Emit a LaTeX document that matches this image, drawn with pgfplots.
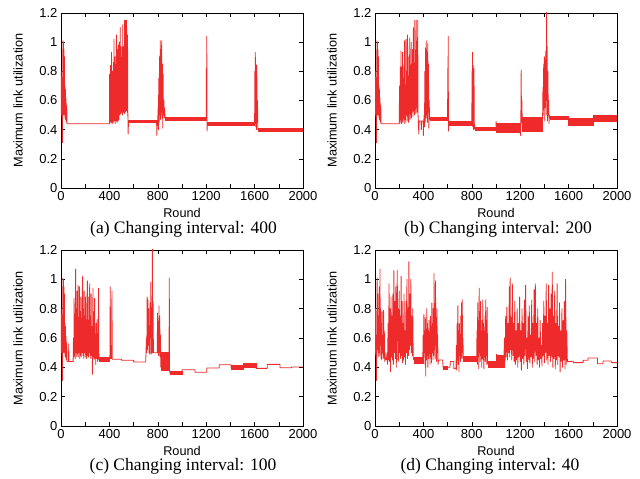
\documentclass[border=0pt]{standalone}
\usepackage{pgfplots}
\pgfplotsset{compat=1.18}
\usepackage{fontspec}
\setmainfont{Liberation Sans}
\newfontfamily\capfont{Liberation Serif}
\usetikzlibrary{calc}
\definecolor{lr}{RGB}{238,42,42}
\pgfplotsset{
  panel/.style={
    scale only axis, width=242pt, height=175pt,
    xmin=0, xmax=2000, ymin=0, ymax=1.2,
    xtick={0,200,...,2000}, xticklabels={0,,400,,800,,1200,,1600,,2000},
    ytick={0,0.2,0.4,0.6,0.8,1,1.2}, yticklabels={0,0.2,0.4,0.6,0.8,1,1.2},
    tick align=inside, major tick length=4pt,
    xtick pos=both, ytick pos=both,
    tick style={black, line width=0.6pt},
    axis line style={black, line width=0.8pt},
    /pgf/number format/assume math mode=true,
    ticklabel style={font=\fontsize{13}{13}\selectfont},
    label style={font=\fontsize{12.7}{13}\selectfont},
    xlabel=Round, ylabel=Maximum link utilization,
    xlabel style={at={(axis description cs:0.5,0)}, anchor=center, yshift=-24.5pt},
    ylabel style={at={($(axis description cs:0,0.5)+(-43pt,0)$)}, anchor=center},
  },
  trace/.style={lr, line width=0.8pt, line join=round},
  band/.style={fill=lr, draw=lr, line width=0.4pt, forget plot},
}
\begin{document}
\begin{tikzpicture}
\path[use as bounding box] (0,0) rectangle (640pt,479pt);
% (a)
\begin{axis}[panel, at={(61pt,291pt)}, anchor=south west]
\addplot[band] coordinates {(558,0.448) (800,0.448) (800,0.468) (558,0.468)} --cycle;
\addplot[band] coordinates {(860,0.465) (1200,0.465) (1200,0.487) (860,0.487)} --cycle;
\addplot[band] coordinates {(1209,0.428) (1600,0.428) (1600,0.450) (1209,0.450)} --cycle;
\addplot[band] coordinates {(1627,0.388) (2000,0.388) (2000,0.412) (1627,0.412)} --cycle;
\addplot[trace] coordinates {
(0,0.50) (2,0.80) (4,0.55) (6,0.76) (8,0.48) (10,0.70) (12,0.31) (14,0.62) (16,1.01) (18,0.55) (20,1.00) (22,0.50) (24,0.95) (26,0.60) (28,0.90) (30,0.50) (32,0.70) (34,0.48) (36,0.68) (38,0.47) (40,0.62) (42,0.46) (44,0.58) (46,0.45) (48,0.56) (50,0.44)
(400,0.44) (402,0.78) (404,0.46) (406,0.60) (408,0.45) (410,0.84) (412,0.47) (414,0.70) (416,0.45) (418,0.93) (420,0.48) (422,0.66) (424,0.44) (426,0.80) (428,0.50) (430,0.72) (432,0.45) (434,0.86) (436,0.47) (438,1.02) (440,0.46) (442,0.75) (444,0.49) (446,0.90) (448,0.44) (450,0.68) (452,0.50) (454,0.85) (456,0.46) (458,1.05) (460,0.48) (462,0.78) (464,0.45) (466,0.95) (468,0.50) (470,0.70) (472,0.46) (474,0.98) (476,0.52) (478,0.80) (480,0.47) (482,1.00) (484,0.55) (486,0.74) (488,0.50) (490,1.10) (492,0.53) (494,0.82) (496,0.51) (498,0.97) (500,0.55) (502,0.76) (504,0.52) (506,0.90) (508,0.50) (510,1.12) (512,0.56) (514,0.80) (516,0.52) (518,0.97) (520,0.54) (522,0.70) (524,0.51) (526,1.15) (528,0.55) (530,0.85) (532,0.52) (534,1.15) (536,0.58) (538,0.92) (540,0.53) (542,1.15) (544,0.56) (546,0.80) (548,0.52) (550,1.05) (552,0.54) (555,0.37) (558,0.46)
(790,0.46) (792,0.36) (795,0.45) (800,0.46) (802,0.55) (805,0.40) (808,0.75) (811,0.45) (814,0.90) (817,0.50) (820,1.01) (823,0.47) (826,0.95) (829,0.52) (832,1.01) (835,0.48) (838,0.85) (841,0.41) (844,0.78) (847,0.50) (850,0.60) (853,0.48) (856,0.55) (860,0.48)
(1200,0.48) (1201,0.82) (1203,0.48) (1205,1.04) (1207,0.39) (1209,0.44)
(1600,0.44) (1602,0.80) (1604,0.45) (1606,0.93) (1609,0.42) (1612,0.85) (1615,0.40) (1618,0.84) (1621,0.45) (1624,0.60) (1627,0.40) (2000,0.40)
};
\end{axis}
% (b)
\begin{axis}[panel, at={(375pt,291pt)}, anchor=south west]
\addplot[band] coordinates {(455,0.468) (600,0.468) (600,0.488) (455,0.488)} --cycle;
\addplot[band] coordinates {(609,0.432) (800,0.432) (800,0.455) (609,0.455)} --cycle;
\addplot[band] coordinates {(824,0.395) (1000,0.395) (1000,0.415) (824,0.415)} --cycle;
\addplot[band] coordinates {(1000,0.386) (1200,0.386) (1200,0.444) (1000,0.444)} --cycle;
\addplot[band] coordinates {(1217,0.390) (1385,0.390) (1385,0.485) (1217,0.485)} --cycle;
\addplot[band] coordinates {(1445,0.470) (1600,0.470) (1600,0.490) (1445,0.490)} --cycle;
\addplot[band] coordinates {(1600,0.430) (1800,0.430) (1800,0.478) (1600,0.478)} --cycle;
\addplot[band] coordinates {(1800,0.460) (2000,0.460) (2000,0.500) (1800,0.500)} --cycle;
\addplot[trace] coordinates {
(0,0.50) (2,0.80) (4,0.55) (6,0.76) (8,0.48) (10,0.70) (12,0.31) (14,0.62) (16,1.01) (18,0.55) (20,1.00) (22,0.50) (24,0.95) (26,0.60) (28,0.90) (30,0.50) (32,0.70) (34,0.48) (36,0.68) (38,0.47) (40,0.62) (42,0.46) (44,0.58) (46,0.45) (48,0.56) (50,0.44)
(200,0.44) (203,0.70) (206,0.45) (209,0.83) (212,0.47) (215,0.94) (218,0.44) (221,0.65) (224,0.46) (227,0.93) (230,0.45) (233,0.72) (236,0.48) (239,0.85) (242,0.44) (245,1.01) (248,0.47) (251,0.70) (254,0.45) (257,1.02) (260,0.50) (263,0.80) (266,0.46) (269,1.05) (272,0.49) (275,0.75) (278,0.45) (281,0.90) (284,0.51) (287,1.03) (290,0.47) (293,0.80) (296,0.50) (299,1.00) (302,0.48) (305,0.85) (308,0.52) (311,0.95) (314,0.49) (317,1.10) (320,0.53) (323,0.82) (326,0.50) (329,1.15) (332,0.54) (335,0.90) (338,0.51) (341,1.15) (344,0.55) (347,0.85) (350,0.52) (353,1.15) (356,0.50) (358,0.46) (362,0.37) (365,0.46) (380,0.46) (383,0.40) (386,0.46) (398,0.46) (400,0.36) (403,0.46) (406,0.50)
(409,0.42) (412,0.80) (415,0.45) (418,0.96) (421,0.48) (424,1.01) (427,0.50) (430,0.93) (433,0.45) (436,0.99) (439,0.52) (442,0.85) (445,0.41) (448,0.60) (451,0.47) (455,0.48)
(600,0.48) (601,0.82) (603,0.48) (605,1.04) (607,0.39) (609,0.44)
(800,0.44) (802,0.80) (804,0.45) (806,0.93) (809,0.42) (812,0.84) (815,0.40) (818,0.82) (821,0.44) (824,0.405)
(1000,0.405) (1001,0.455) (1004,0.42) (1200,0.42) (1202,0.36) (1205,0.44) (1208,0.81) (1211,0.45) (1214,0.60) (1217,0.44)
(1385,0.48) (1388,0.69) (1391,0.50) (1394,0.85) (1397,0.55) (1400,0.90) (1403,0.46) (1406,0.88) (1409,0.55) (1412,0.94) (1415,0.50) (1418,1.22) (1420,0.60) (1423,0.97) (1426,0.46) (1429,0.80) (1432,0.50) (1435,0.60) (1438,0.44) (1441,0.50) (1445,0.48)
(1600,0.48) (1600,0.45) (1800,0.45) (1800,0.48) (2000,0.48)
};
\end{axis}
% (c)
\begin{axis}[panel, at={(61pt,53pt)}, anchor=south west, height=176pt]
\addplot[band] coordinates {(315,0.445) (400,0.445) (400,0.470) (315,0.470)} --cycle;
\addplot[band] coordinates {(828,0.380) (895,0.380) (895,0.500) (828,0.500)} --cycle;
\addplot[band] coordinates {(900,0.350) (1000,0.350) (1000,0.375) (900,0.375)} --cycle;
\addplot[band] coordinates {(1405,0.386) (1507,0.386) (1507,0.414) (1405,0.414)} --cycle;
\addplot[band] coordinates {(1507,0.400) (1611,0.400) (1611,0.430) (1507,0.430)} --cycle;
\addplot[trace] coordinates {
(0,0.50) (2,0.80) (4,0.55) (6,0.76) (8,0.48) (10,0.70) (12,0.31) (14,0.62) (16,1.01) (18,0.55) (20,1.00) (22,0.50) (24,0.95) (26,0.60) (28,0.90) (30,0.50) (32,0.70) (34,0.48) (36,0.68) (38,0.47) (40,0.62) (42,0.46) (44,0.58) (46,0.45) (48,0.56) (50,0.44)
(62,0.44) (64,0.56) (66,0.44) (100,0.44)
(103,0.60) (106,0.47) (108,0.87) (111,0.48) (114,0.75) (117,0.46) (121,1.07) (124,0.50) (127,0.80) (130,0.47) (133,0.92) (136,0.49) (140,0.96) (143,0.47) (146,0.70) (149,0.50) (152,0.95) (155,0.46) (158,0.78) (161,0.48) (164,0.88) (167,0.47) (170,0.72) (173,0.50) (176,0.90) (179,1.02) (182,0.48) (185,0.80) (188,0.46) (191,0.92) (194,0.50) (197,0.75) (200,0.47) (203,0.88) (206,0.49) (209,0.70) (212,0.46) (215,0.85) (218,0.99) (221,0.48) (224,0.72) (227,0.47) (230,0.88) (233,0.50) (237,0.97) (240,0.48) (243,0.75) (246,0.46) (249,0.90) (252,0.48) (255,0.68) (259,0.35) (262,0.60) (264,0.94) (267,0.47) (270,0.78) (273,0.45) (276,0.65) (278,0.87) (281,0.46) (284,0.62) (287,0.42) (290,0.70) (293,0.46) (296,0.58) (299,0.73) (302,0.44) (305,0.55) (308,0.46) (311,0.94) (313,0.45) (315,0.46)
(400,0.46) (404,0.46) (407,0.95) (410,0.46) (418,0.46) (421,0.92) (424,0.455) (500,0.455) (500,0.448) (600,0.448) (600,0.436) (700,0.436)
(703,0.52) (706,0.60) (709,0.50) (712,0.88) (715,0.52) (718,0.86) (721,0.55) (724,0.80) (727,0.50) (730,0.65) (733,0.49) (736,0.84) (739,0.60) (742,0.98) (745,0.49) (748,0.70) (752,0.50) (755,1.22) (758,0.50) (761,0.85) (764,0.50)
(795,0.50) (798,0.77) (801,0.50) (804,0.70) (807,0.48) (810,0.82) (813,0.50) (816,0.75) (819,0.47) (822,0.62) (825,0.40) (828,0.50)
(893,0.45) (895,1.01) (897,0.38) (900,0.36)
(1000,0.36) (1000,0.384) (1107,0.384) (1107,0.366) (1204,0.366) (1204,0.395) (1308,0.395) (1308,0.418) (1405,0.418) (1405,0.40) (1507,0.40) (1507,0.415) (1611,0.415) (1611,0.393) (1705,0.393) (1705,0.42) (1810,0.42) (1810,0.397) (1906,0.397) (1906,0.402) (2000,0.402)
};
\end{axis}
% (d)
\begin{axis}[panel, at={(375pt,53pt)}, anchor=south west, height=176pt]
\addplot[band] coordinates {(320,0.430) (395,0.430) (395,0.470) (320,0.470)} --cycle;
\addplot[band] coordinates {(562,0.390) (600,0.390) (600,0.410) (562,0.410)} --cycle;
\addplot[band] coordinates {(730,0.440) (840,0.440) (840,0.475) (730,0.475)} --cycle;
\addplot[band] coordinates {(935,0.400) (1000,0.400) (1000,0.440) (935,0.440)} --cycle;
\addplot[band] coordinates {(1000,0.400) (1065,0.400) (1065,0.480) (1000,0.480)} --cycle;
\addplot[trace] coordinates {
(0,0.48) (3,0.80) (6,0.50) (9,0.62) (12,0.31) (15,0.72) (18,1.01) (21,0.52) (24,0.90) (27,0.47) (30,0.75) (33,0.50) (36,0.95) (39,0.48) (41,1.07) (44,0.55) (47,0.80) (50,0.46) (53,0.70) (56,0.45) (59,0.78) (62,0.50) (65,0.60) (68,0.46) (71,0.79) (74,0.47) (77,0.65) (80,0.44) (83,0.50) (86,0.45) (90,0.46) (93,0.45)
(95,0.46) (100,0.50) (104,0.42) (108,0.70) (112,0.45) (116,0.97) (120,0.44) (124,0.80) (128,0.37) (132,0.88) (136,0.47) (140,0.75) (144,0.45) (148,0.90) (152,0.42) (156,1.06) (160,0.50) (164,0.85) (168,0.46) (172,0.95) (176,0.40) (180,0.70) (184,1.06) (188,0.45) (192,0.80) (196,0.44) (200,0.92) (204,0.50) (208,0.75) (212,0.46) (216,1.02) (220,0.48) (224,0.85) (228,0.43) (232,0.70) (236,0.45) (240,0.90) (244,0.47) (248,0.65) (252,0.42) (256,0.85) (260,0.50) (264,1.00) (268,0.46) (272,0.80) (276,0.48) (280,1.12) (284,0.52) (288,0.90) (292,0.55) (296,1.00) (300,0.50) (304,0.75) (308,0.48) (312,0.80) (316,0.47) (320,0.45)
(395,0.46) (398,0.62) (401,0.44) (404,0.76) (407,0.50) (410,0.65) (413,0.42) (416,0.74) (419,0.34) (422,0.60) (425,0.45) (428,0.80) (431,0.48) (434,0.70) (437,0.40) (440,0.65) (443,0.46) (446,0.72) (449,0.50) (452,0.58) (455,0.42) (458,0.75) (461,0.47) (464,0.68) (467,0.43) (470,0.84) (473,0.50) (476,0.70) (479,0.45) (482,0.80) (485,0.48) (488,1.04) (491,0.52) (494,0.75) (497,0.46) (500,0.99) (503,0.55) (506,0.70) (509,0.44) (512,0.80) (515,0.50) (518,0.62) (521,0.42) (525,0.45)
(560,0.45) (562,0.40) (600,0.40) (620,0.40) (622,0.44) (650,0.44) (652,0.39) (668,0.39)
(670,0.42) (673,0.55) (676,0.38) (679,0.70) (682,0.45) (685,0.82) (688,0.42) (691,0.65) (694,0.37) (697,0.70) (700,0.48) (703,0.60) (706,0.44) (709,0.75) (712,0.47) (715,0.84) (718,0.46) (721,0.86) (724,0.50) (727,0.60) (730,0.46)
(840,0.46) (843,0.65) (846,0.42) (849,0.84) (852,0.47) (855,0.70) (858,0.39) (861,0.94) (864,0.50) (867,0.78) (870,0.44) (873,0.85) (876,0.48) (879,0.65) (882,0.40) (885,0.72) (888,0.46) (891,0.86) (894,0.45) (897,0.70) (900,0.39) (903,0.60) (906,0.47) (909,0.75) (912,0.44) (915,0.86) (918,0.48) (921,0.70) (924,0.42) (927,0.81) (930,0.45) (934,0.42)
(1003,0.42) (1005,0.49) (1008,0.44) (1065,0.45)
(1070,0.60) (1075,0.44) (1080,0.75) (1085,0.47) (1090,0.81) (1095,0.45) (1100,0.70) (1105,0.50) (1110,0.95) (1114,0.47) (1117,1.01) (1120,0.52) (1125,0.74) (1130,0.45) (1135,0.97) (1140,0.48) (1145,0.70) (1150,0.44) (1155,0.85) (1160,0.42) (1165,0.65) (1170,0.45) (1175,0.80) (1180,0.40) (1185,0.70) (1190,0.47) (1195,0.88) (1200,0.44) (1205,0.65) (1210,0.38) (1215,0.80) (1220,0.46) (1225,0.70) (1230,0.42) (1235,0.86) (1240,0.48) (1245,0.96) (1250,0.44) (1255,0.60) (1260,0.39) (1265,0.75) (1270,0.45) (1275,0.82) (1280,0.43) (1285,0.62) (1290,0.47) (1295,0.86) (1300,0.40) (1305,0.70) (1310,0.46) (1315,0.93) (1320,0.44) (1325,0.97) (1330,0.48) (1335,0.70) (1340,0.42) (1345,0.80) (1350,0.45) (1355,0.60) (1360,0.40) (1365,0.72) (1370,0.46) (1375,0.55) (1380,0.41) (1385,0.70) (1390,0.48) (1395,0.85) (1400,0.43) (1405,0.75) (1410,0.50) (1415,0.97) (1420,0.45) (1425,0.70) (1430,0.42) (1435,0.96) (1440,0.48) (1445,0.80) (1450,0.44) (1455,0.90) (1460,0.47) (1465,1.05) (1470,0.40) (1475,0.75) (1480,0.46) (1485,0.92) (1490,0.39) (1495,0.70) (1500,0.45) (1505,0.97) (1510,0.42) (1515,0.68) (1520,0.47) (1525,0.84) (1530,0.37) (1535,0.65) (1540,0.44) (1545,0.80) (1550,0.40) (1555,0.72) (1560,0.45) (1565,0.85) (1570,0.39) (1575,1.00) (1580,0.42) (1585,0.65) (1590,0.44)
(1638,0.441) (1638,0.432) (1720,0.432) (1720,0.448) (1761,0.448) (1761,0.464) (1838,0.464) (1838,0.425) (1885,0.425) (1885,0.443) (1953,0.443) (1953,0.432) (2000,0.432)
};
\end{axis}
\node[font=\capfont\fontsize{17.5}{18}\selectfont] at (183.5pt,249.7pt) {(a) Changing interval: 400};
\node[font=\capfont\fontsize{17.5}{18}\selectfont] at (498pt,249.7pt) {(b) Changing interval: 200};
\node[font=\capfont\fontsize{17.5}{18}\selectfont] at (183pt,13pt) {(c) Changing interval: 100};
\node[font=\capfont\fontsize{17.5}{18}\selectfont] at (490pt,13pt) {(d) Changing interval: 40};
\end{tikzpicture}
\end{document}
